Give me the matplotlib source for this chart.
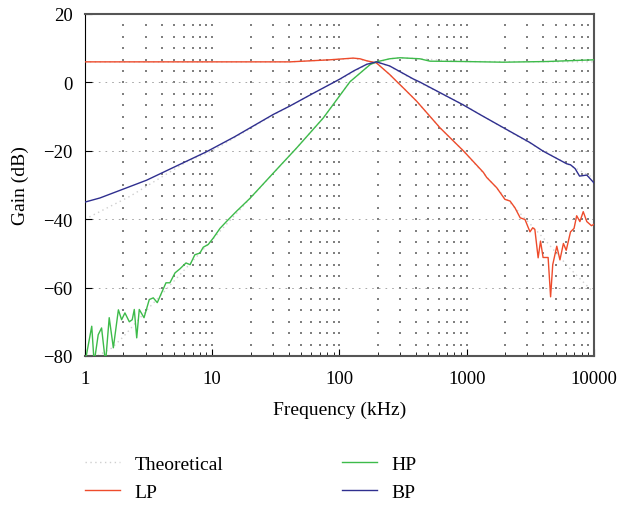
import numpy as np
import matplotlib
matplotlib.use("Agg")
from matplotlib import pyplot as plt

plt.rcParams['font.family'] = ['Liberation Serif', 'DejaVu Serif']

# measured responses (kHz, dB)
lp_f = [1, 10, 40.8, 84, 128, 145, 164, 195, 248, 281, 317, 404, 617, 940, 1350, 1435,
        1720, 1995, 2190, 2395, 2630, 2870, 3140, 3300, 3430, 3640, 3800, 3980, 4360,
        4560, 4740, 5100, 5400, 5750, 6050, 6540, 6970, 7310, 7750, 8230, 8780, 9550, 10000]
lp_db = [6.0, 6.0, 6.0, 6.6, 7.1, 6.9, 6.3, 5.7, 2.3, 0.3, -1.6, -5.5, -13.3, -20, -26.3, -27.8,
         -30.8, -34.2, -34.7, -36.7, -39.6, -40.1, -43.7, -42.5, -43, -51.3, -46.4, -51.2, -51.2,
         -62.7, -53.3, -47.9, -51.9, -47.1, -49.1, -43.7, -42.7, -39, -40.7, -37.8, -40.7, -41.9, -41.5]

hp_f = [1.0, 1.13, 1.18, 1.27, 1.35, 1.45, 1.55, 1.67, 1.83, 1.94, 2.06, 2.23, 2.35, 2.44,
        2.55, 2.67, 2.91, 3.2, 3.44, 3.7, 4.0, 4.33, 4.65, 5.1, 5.58, 6.22, 6.7, 7.3, 8.0,
        8.5, 9.3, 10.2, 11.5, 13.0, 15.5, 19.8, 32, 46, 74.6, 121, 174, 195, 248, 299, 428,
        514, 940, 1930, 4250, 10000]
hp_db = [-82, -71.3, -82, -73.8, -71.8, -82, -68.8, -77.6, -66.5, -69.4, -67.4, -70, -69.4, -66.4,
         -74.7, -66.4, -68.8, -63.5, -63, -64.4, -61.5, -58.6, -58.6, -55.7, -54.5, -52.8, -53.3, -50.4, -49.9,
         -48.2, -47.4, -45.5, -42.7, -40.6, -37.7, -33.9, -25.5, -19.2, -10.4, 0.2, 5.2, 6.0, 6.9, 7.2, 6.9,
         6.2, 6.1, 5.9, 6.1, 6.6]

bp_f = [1, 1.31, 2.0, 3.05, 5, 9.0, 15, 30.1, 40.8, 60, 84, 101, 130, 164, 195, 248, 380, 428,
        940, 1270, 1930, 3140, 3980, 6100, 6540, 7100, 7700, 8780, 10000]
bp_db = [-35, -33.8, -31.2, -28.6, -24.8, -20.3, -15.9, -9.4, -6.9, -3.5, -0.6, 1.0, 3.4, 5.3, 6.0, 4.8, 1.0, 0.1,
         -6.6, -9.4, -13.2, -17.6, -20.1, -23.8, -24.1, -25.2, -27.4, -27.1, -29.4]

# theoretical responses
lp_th_f = [1, 40, 84, 128, 164, 195, 248, 317, 404, 617, 940, 1930, 4000, 6270, 7700, 10000]
lp_th_db = [6, 6, 6.6, 7.0, 6.3, 5.7, 2.3, -1.6, -5.5, -13.3, -20, -33, -45.5, -53.9, -57.3, -61.5]
hp_th_f = [1, 1.62, 2.0, 3.24, 5.4, 10, 19.8, 46, 74.6, 121, 174, 248, 299, 428, 940, 10000]
hp_th_db = [-82, -77.7, -74.4, -65.6, -56.8, -46, -34, -19.2, -10.4, 0.2, 5.2, 6.9, 7.2, 6.9, 6.1, 6.0]
bp_th_f = [1, 2.26, 6.3, 10, 30, 84, 101, 164, 195, 248, 380, 940, 1930, 3980, 10000]
bp_th_db = [-40, -33.3, -23.2, -20, -9.6, -0.6, 0.8, 5.3, 6.0, 4.7, 0.8, -6.5, -13.3, -20, -28]

x_ticks = [1, 10, 100, 1000, 10000]
x_labels = ['1', '10', '100', '1000', '10000']
y_ticks = [-80, -60, -40, -20, 0, 20]

fig = plt.figure(figsize=(6.19, 5.06), dpi=100)
ax = fig.add_axes([0.1373, 0.2945, 0.8223, 0.6759])

# dotted background grid
gx = [m * 10 ** d for d in range(4) for m in range(1, 10)][1:]
gy = np.arange(-80 + 20 / 6, 20 - 0.1, 20 / 6)
GX, GY = np.meshgrid(gx, gy)
ax.scatter(GX.ravel(), GY.ravel(), s=0.8, marker='s', color='#808080', linewidths=0, zorder=0)
for y in [-60, -40, -20, 0]:
    ax.axhline(y, color='#999999', lw=0.6, linestyle=(0, (2, 6)), zorder=0)

th_style = dict(color='#cfcfcf', lw=1.0, linestyle=(0, (1, 2.5)), zorder=1)
ax.plot(lp_th_f, lp_th_db, label='Theoretical', **th_style)
ax.plot(hp_th_f, hp_th_db, **th_style)
ax.plot(bp_th_f, bp_th_db, **th_style)

ax.plot(lp_f, lp_db, color='#ee4b2b', lw=1.0, label='LP', zorder=3)
ax.plot(hp_f, hp_db, color='#3dbb4a', lw=1.0, label='HP', zorder=3)
ax.plot(bp_f, bp_db, color='#2f2f8f', lw=1.0, label='BP', zorder=3)

ax.set_xscale('log')
ax.set_xlim(1, 10000)
ax.set_ylim(-80, 20)
ax.set_xticks(x_ticks)
ax.set_xticklabels(x_labels)
ax.set_yticks(y_ticks)
ax.tick_params(axis='both', which='major', direction='in', length=5, labelsize=13.5,
               top=False, right=False)
ax.tick_params(axis='x', which='major', pad=10)
ax.tick_params(axis='y', which='major', pad=9)
ax.tick_params(axis='x', which='minor', direction='in', length=3, top=False)
ax.yaxis.set_minor_locator(matplotlib.ticker.NullLocator())

for s in ['top', 'right', 'bottom']:
    ax.spines[s].set_color('#555555')
    ax.spines[s].set_linewidth(1.5)
ax.spines['left'].set_color('black')
ax.spines['left'].set_linewidth(0.8)

ax.set_xlabel('Frequency (kHz)', fontsize=14, labelpad=10)
ax.set_ylabel('Gain (dB)', fontsize=14, labelpad=10)

h, l = ax.get_legend_handles_labels()
fig.legend(h, l, ncol=2, loc='upper left', bbox_to_anchor=(0.137, 0.099),
           bbox_transform=fig.transFigure, frameon=False, fontsize=14,
           borderpad=0, borderaxespad=0,
           handlelength=1.8, handletextpad=0.75, columnspacing=6.1, labelspacing=0.55)

fig.savefig('out.png', dpi=100)
